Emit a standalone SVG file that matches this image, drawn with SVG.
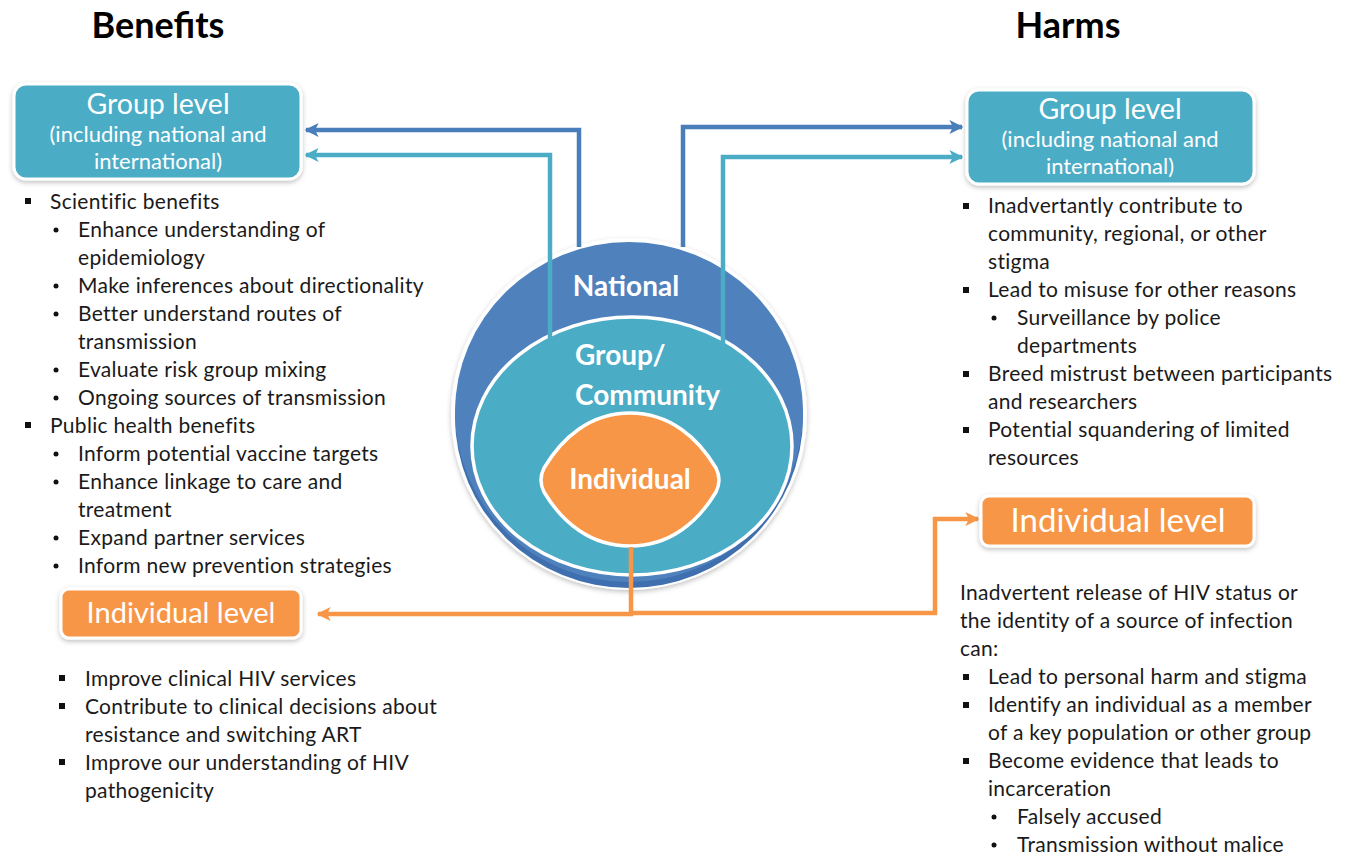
<svg xmlns="http://www.w3.org/2000/svg" width="1352" height="857" viewBox="0 0 1352 857">
<defs>
<style>
text{font-family:Lato,"Open Sans","Liberation Sans",sans-serif;fill:#1a1a1a}
.t{font-size:36px;font-weight:bold;text-anchor:middle;fill:#000}
.li{font-size:21px;letter-spacing:0.3px}
.bx{stroke:#fff;stroke-width:3}
.h1{font-size:28.5px;fill:#fff;text-anchor:middle}
.h2{font-size:22px;fill:#fff;text-anchor:middle}
.c{font-size:28px;font-weight:bold;fill:#fff}
.db{stroke:#4a7ebb;stroke-width:4.5;fill:none}
.tl{stroke:#4bacc6;stroke-width:4.5;fill:none}
.or{stroke:#f79646;stroke-width:4.5;fill:none}
</style>
<filter id="sh" x="-10%" y="-20%" width="120%" height="150%">
<feDropShadow dx="0" dy="2" stdDeviation="2.5" flood-color="#000" flood-opacity="0.25"/>
</filter>
<marker id="aDB" viewBox="0 0 10 10" refX="9" refY="5" markerWidth="14" markerHeight="14" markerUnits="userSpaceOnUse" orient="auto"><path d="M0,0 L10,5 L0,10 L2.5,5 Z" fill="#4a7ebb"/></marker>
<marker id="aTL" viewBox="0 0 10 10" refX="9" refY="5" markerWidth="14" markerHeight="14" markerUnits="userSpaceOnUse" orient="auto"><path d="M0,0 L10,5 L0,10 L2.5,5 Z" fill="#4bacc6"/></marker>
<marker id="aOR" viewBox="0 0 10 10" refX="9" refY="5" markerWidth="14" markerHeight="14" markerUnits="userSpaceOnUse" orient="auto"><path d="M0,0 L10,5 L0,10 L2.5,5 Z" fill="#f79646"/></marker>
</defs>
<rect width="1352" height="857" fill="#fff"/>

<text class="t" x="158" y="38">Benefits</text>
<text class="t" x="1068" y="38">Harms</text>

<g id="circle">
<ellipse cx="629" cy="414" rx="178" ry="176" fill="#fff" filter="url(#sh)"/>
<ellipse cx="629" cy="417" rx="174" ry="171" fill="#3f6fae"/>
<ellipse cx="629" cy="412" rx="174" ry="170" fill="#4f81bd"/>
<ellipse cx="632" cy="446" rx="160" ry="129" fill="#4bacc6" stroke="#fff" stroke-width="3.5"/>
<path d="M630,413 C670,413 698,438 716,468 Q722,480 716,492 C698,522 670,546 630,546 C590,546 562,522 544,492 Q538,480 544,468 C562,438 590,413 630,413 Z" fill="#f79646" stroke="#fff" stroke-width="3.5"/>
<text class="c" x="626" y="296" text-anchor="middle">National</text>
<text class="c" x="575" y="365">Group/</text>
<text class="c" x="575" y="405">Community</text>
<text class="c" x="630" y="489" text-anchor="middle">Individual</text>
</g>

<g id="connectors">
<path class="db" d="M579,247 V130 H306" marker-end="url(#aDB)"/>
<path class="tl" d="M550,340 V155 H306" marker-end="url(#aTL)"/>
<path class="db" d="M683,247 V127 H962" marker-end="url(#aDB)"/>
<path class="tl" d="M723,345 V157 H962" marker-end="url(#aTL)"/>
<path class="or" d="M631,547 V614 H318" marker-end="url(#aOR)"/>
<path class="or" d="M631,613 H935 V519 H978" marker-end="url(#aOR)"/>
</g>

<g id="group-benefits">
<rect class="bx" x="14" y="84" width="287" height="95" rx="12" fill="#4bacc6" filter="url(#sh)"/>
<text class="h1" x="158" y="114">Group level</text>
<text class="h2" x="158" y="142">(including national and</text>
<text class="h2" x="158" y="169">international)</text>
</g>

<g id="group-harms">
<rect class="bx" x="967" y="90" width="287" height="94" rx="12" fill="#4bacc6" filter="url(#sh)"/>
<text class="h1" x="1110" y="119">Group level</text>
<text class="h2" x="1110" y="147">(including national and</text>
<text class="h2" x="1110" y="174">international)</text>
</g>

<g id="individual-benefits">
<rect class="bx" x="61" y="589" width="240" height="49" rx="8" fill="#f79646" filter="url(#sh)"/>
<text class="h1" x="181" y="623" style="font-size:29px">Individual level</text>
</g>

<g id="individual-harms">
<rect class="bx" x="981" y="496" width="273" height="50" rx="8" fill="#f79646" filter="url(#sh)"/>
<text class="h1" x="1118" y="532" style="font-size:33px">Individual level</text>
</g>

<g id="benefits-list">
<rect x="25" y="198" width="6" height="6" fill="#111"/>
<text class="li" x="50" y="209">Scientific benefits</text>
<circle cx="56" cy="230" r="2.5" fill="#111"/>
<text class="li" x="78" y="237">Enhance understanding of</text>
<text class="li" x="78" y="265">epidemiology</text>
<circle cx="56" cy="286" r="2.5" fill="#111"/>
<text class="li" x="78" y="293">Make inferences about directionality</text>
<circle cx="56" cy="314" r="2.5" fill="#111"/>
<text class="li" x="78" y="321">Better understand routes of</text>
<text class="li" x="78" y="349">transmission</text>
<circle cx="56" cy="370" r="2.5" fill="#111"/>
<text class="li" x="78" y="377">Evaluate risk group mixing</text>
<circle cx="56" cy="398" r="2.5" fill="#111"/>
<text class="li" x="78" y="405">Ongoing sources of transmission</text>
<rect x="25" y="422" width="6" height="6" fill="#111"/>
<text class="li" x="50" y="433">Public health benefits</text>
<circle cx="56" cy="454" r="2.5" fill="#111"/>
<text class="li" x="78" y="461">Inform potential vaccine targets</text>
<circle cx="56" cy="482" r="2.5" fill="#111"/>
<text class="li" x="78" y="489">Enhance linkage to care and</text>
<text class="li" x="78" y="517">treatment</text>
<circle cx="56" cy="538" r="2.5" fill="#111"/>
<text class="li" x="78" y="545">Expand partner services</text>
<circle cx="56" cy="566" r="2.5" fill="#111"/>
<text class="li" x="78" y="573">Inform new prevention strategies</text>
</g>

<g id="individual-benefits-list">
<rect x="59" y="675" width="6" height="6" fill="#111"/>
<text class="li" x="85" y="686">Improve clinical HIV services</text>
<rect x="59" y="703" width="6" height="6" fill="#111"/>
<text class="li" x="85" y="714">Contribute to clinical decisions about</text>
<text class="li" x="85" y="742">resistance and switching ART</text>
<rect x="59" y="759" width="6" height="6" fill="#111"/>
<text class="li" x="85" y="770">Improve our understanding of HIV</text>
<text class="li" x="85" y="798">pathogenicity</text>
</g>

<g id="harms-list">
<rect x="963" y="203" width="6" height="6" fill="#111"/>
<text class="li" x="988" y="213">Inadvertantly contribute to</text>
<text class="li" x="988" y="241">community, regional, or other</text>
<text class="li" x="988" y="269">stigma</text>
<rect x="963" y="287" width="6" height="6" fill="#111"/>
<text class="li" x="988" y="297">Lead to misuse for other reasons</text>
<circle cx="994" cy="318" r="2.5" fill="#111"/>
<text class="li" x="1017" y="325">Surveillance by police</text>
<text class="li" x="1017" y="353">departments</text>
<rect x="963" y="371" width="6" height="6" fill="#111"/>
<text class="li" x="988" y="381">Breed mistrust between participants</text>
<text class="li" x="988" y="409">and researchers</text>
<rect x="963" y="427" width="6" height="6" fill="#111"/>
<text class="li" x="988" y="437">Potential squandering of limited</text>
<text class="li" x="988" y="465">resources</text>
</g>

<g id="individual-harms-list">
<text class="li" x="960" y="600">Inadvertent release of HIV status or</text>
<text class="li" x="960" y="628">the identity of a source of infection</text>
<text class="li" x="960" y="656">can:</text>
<rect x="963" y="674" width="6" height="6" fill="#111"/>
<text class="li" x="988" y="684">Lead to personal harm and stigma</text>
<rect x="963" y="702" width="6" height="6" fill="#111"/>
<text class="li" x="988" y="712">Identify an individual as a member</text>
<text class="li" x="988" y="740">of a key population or other group</text>
<rect x="963" y="758" width="6" height="6" fill="#111"/>
<text class="li" x="988" y="768">Become evidence that leads to</text>
<text class="li" x="988" y="796">incarceration</text>
<circle cx="994" cy="817" r="2.5" fill="#111"/>
<text class="li" x="1017" y="824">Falsely accused</text>
<circle cx="994" cy="845" r="2.5" fill="#111"/>
<text class="li" x="1017" y="852">Transmission without malice</text>
</g>
</svg>
